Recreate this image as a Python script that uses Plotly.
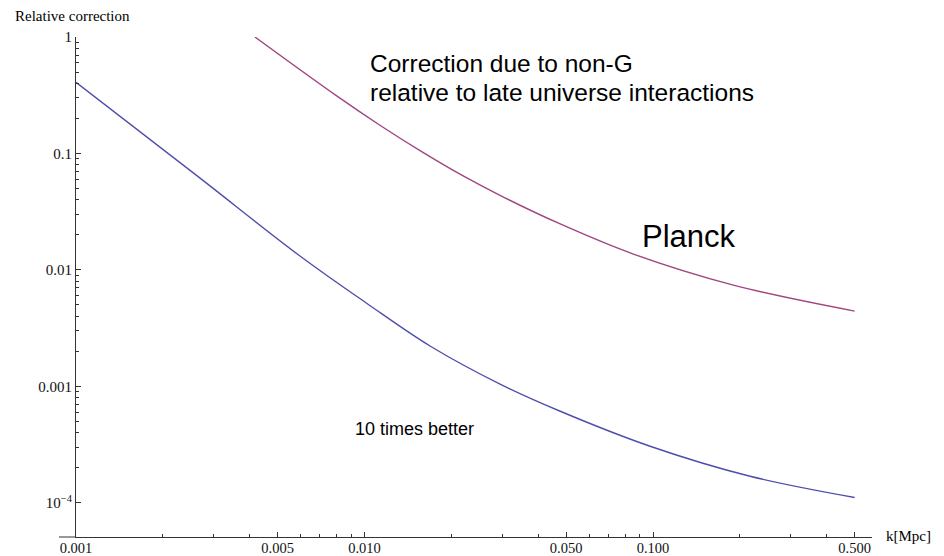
import plotly.graph_objects as go

# Data (log-log plot)
k_better = [0.001, 0.00261, 0.005975, 0.0102, 0.01687, 0.0295, 0.0477, 0.0977, 0.217, 0.5]
corr_better = [0.408, 0.0651, 0.01317, 0.00515, 0.00222, 0.001045, 6.11e-4, 3.06e-4, 1.69e-4, 1.11e-4]

k_planck = [0.00417, 0.00801, 0.01131, 0.01599, 0.0223, 0.0303, 0.0477, 0.0855, 0.190, 0.5]
corr_planck = [1.0, 0.312, 0.1747, 0.1016, 0.0628, 0.0422, 0.0248, 0.01367, 0.0074, 0.00443]

x_tickvals = [0.001, 0.005, 0.01, 0.05, 0.1, 0.5]
x_ticktext = ["0.001", "0.005", "0.010", "0.050", "0.100", "0.500"]
x_minor = [0.002, 0.003, 0.004, 0.006, 0.007, 0.008, 0.009,
           0.02, 0.03, 0.04, 0.06, 0.07, 0.08, 0.09,
           0.2, 0.3, 0.4]
y_tickvals = [1, 0.1, 0.01, 0.001, 1e-4]
y_ticktext = ["1", "0.1", "0.01", "0.001", "10<sup>\u22124</sup>"]
y_minor = [m * 10.0 ** e for e in range(-4, 0) for m in range(2, 10)]

SERIF = "Liberation Serif"
SANS = "Liberation Sans"

fig = go.Figure()
fig.add_trace(go.Scatter(x=k_better, y=corr_better, mode="lines",
                         line=dict(color="#4f4fab", width=1.4, shape="spline", smoothing=1.0),
                         showlegend=False, hoverinfo="skip"))
fig.add_trace(go.Scatter(x=k_planck, y=corr_planck, mode="lines",
                         line=dict(color="#a04680", width=1.4, shape="spline", smoothing=1.0),
                         showlegend=False, hoverinfo="skip"))

W, H = 944, 556
L, R, T, B = 76, 72, 37, 19
pw = W - L - R
ph = H - T - B

def px(xp):
    return (xp - L) / pw

def py(yp):
    return 1 - (yp - T) / ph

fig.update_layout(
    template="none",
    width=W, height=H,
    margin=dict(l=L, r=R, t=T, b=B, pad=0),
    paper_bgcolor="white", plot_bgcolor="white",
    showlegend=False,
    xaxis=dict(type="log", range=[-3, -3 + pw / 288.5], automargin=False,
               showgrid=False, zeroline=False,
               showline=True, linecolor="#333333", linewidth=1,
               ticks="inside", ticklen=5, tickwidth=1, tickcolor="#333333",
               tickvals=x_tickvals, ticktext=x_ticktext, ticklabelstandoff=-2,
               tickfont=dict(family=SERIF, size=14.5, color="#111111"),
               minor=dict(tickvals=x_minor, ticks="inside", ticklen=3,
                          tickwidth=1, tickcolor="#333333", showgrid=False)),
    yaxis=dict(type="log", range=[-(ph / 116.45), 0], automargin=False,
               showgrid=False, zeroline=False,
               showline=True, linecolor="#333333", linewidth=1,
               ticks="inside", ticklen=5, tickwidth=1, tickcolor="#333333",
               tickvals=y_tickvals, ticktext=y_ticktext,
               tickfont=dict(family=SERIF, size=15, color="#111111"),
               minor=dict(tickvals=y_minor, ticks="inside", ticklen=3,
                          tickwidth=1, tickcolor="#333333", showgrid=False)),
)

# extend x axis line a little to the left of the y axis (Mathematica style)
fig.add_shape(type="line", xref="paper", yref="paper",
              x0=px(59), x1=0, y0=0, y1=0,
              line=dict(color="#333333", width=1))

annos = [
    dict(text="Relative correction", x=px(13), y=py(16), font=dict(family=SERIF, size=15)),
    dict(text="k[Mpc]", x=px(884), y=py(536), font=dict(family=SERIF, size=15)),
    dict(text="Correction due to non-G", x=px(368), y=py(63), font=dict(family=SANS, size=24.5)),
    dict(text="relative to late universe interactions", x=px(368), y=py(92), font=dict(family=SANS, size=24.5)),
    dict(text="Planck", x=px(640), y=py(236), font=dict(family=SANS, size=31)),
    dict(text="10 times better", x=px(353), y=py(429), font=dict(family=SANS, size=18)),
]
for a in annos:
    fig.add_annotation(xref="paper", yref="paper", xanchor="left", yanchor="middle",
                       showarrow=False, text=a["text"], x=a["x"], y=a["y"],
                       font=dict(color="black", **a["font"]))

fig.write_html("out.html")
